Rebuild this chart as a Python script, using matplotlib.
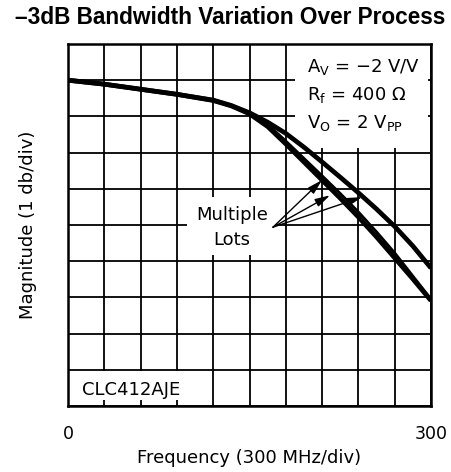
import numpy as np
import matplotlib
matplotlib.use("Agg")
import matplotlib.pyplot as plt
from matplotlib.patches import Rectangle

# frequency points (300 MHz full scale, 30 per division) and magnitude in dB
freq = [0, 30, 60, 90, 120, 135, 150, 165, 180, 195, 210, 225, 240, 255, 270, 285, 300]
lot_upper = [0, -0.11, -0.25, -0.39, -0.55, -0.70, -0.90, -1.16, -1.47, -1.85, -2.26,
             -2.68, -3.11, -3.56, -4.04, -4.58, -5.19]
lot_mid = [0, -0.11, -0.25, -0.39, -0.55, -0.70, -0.92, -1.22, -1.68, -2.16, -2.64,
           -3.13, -3.64, -4.19, -4.77, -5.41, -6.05]
lot_low = [0, -0.11, -0.25, -0.39, -0.56, -0.71, -0.93, -1.28, -1.76, -2.26, -2.76,
           -3.26, -3.78, -4.33, -4.91, -5.49, -6.09]

x_ticks = np.arange(0, 301, 30)
y_ticks = np.arange(-9, 1.01, 1)
x_labels = ["0"] + [""] * 9 + ["300"]

arrow_tail = (169.4, -4.06)
arrow_tips = [(209.9, -2.76), (216.5, -3.18), (243.0, -3.23)]

label_font = "DejaVu Sans"
fs = 13

fig = plt.figure(figsize=(4.51, 4.72), dpi=100)
ax = fig.add_axes([68 / 451, 66 / 472, 363 / 451, 362 / 472])

ax.set_xlim(0, 300)
ax.set_ylim(-9, 1)
ax.set_xticks(x_ticks)
ax.set_xticklabels(x_labels, fontsize=12.5, family=label_font)
ax.set_yticks(y_ticks)
ax.set_yticklabels([])
ax.tick_params(length=0, pad=14)
ax.set_axisbelow(True)
ax.grid(True, color="black", lw=1.3)
for s in ax.spines.values():
    s.set_linewidth(1.8)

# blank out grid behind the text blocks
for (x0, y0, w, h) in [(188, -1.88, 109.5, 3.0), (0, -8.83, 118, 0.79), (98.3, -4.83, 73.7, 1.6)]:
    ax.add_patch(Rectangle((x0, y0), w, h, facecolor="white", edgecolor="none", zorder=1))

ax.plot(freq, lot_upper, color="black", lw=3.4, zorder=3, solid_capstyle="butt")
ax.plot(freq, lot_low, color="black", lw=3.4, zorder=3, solid_capstyle="butt")
ax.plot(freq, lot_mid, color="black", lw=2.0, zorder=3, solid_capstyle="butt")

for tip in arrow_tips:
    ax.annotate("", xy=tip, xytext=arrow_tail, zorder=4,
                arrowprops=dict(arrowstyle="-|>,head_length=0.9,head_width=0.25",
                                color="black", lw=1.0, shrinkA=0, shrinkB=0))

ax.text(135.5, -3.73, "Multiple", ha="center", va="center", fontsize=fs, family=label_font, zorder=4)
ax.text(135.5, -4.42, "Lots", ha="center", va="center", fontsize=fs, family=label_font, zorder=4)

ax.text(197.5, 0.22, r"A$_\mathregular{V}$ = $-$2 V/V", fontsize=fs, family=label_font, va="baseline", zorder=4)
ax.text(197.5, -0.55, r"R$_\mathregular{f}$ = 400 $\Omega$", fontsize=fs, family=label_font, va="baseline", zorder=4)
ax.text(197.5, -1.33, r"V$_\mathregular{O}$ = 2 V$_\mathregular{PP}$", fontsize=fs, family=label_font, va="baseline", zorder=4)
ax.text(11.6, -8.7, "CLC412AJE", fontsize=fs, family=label_font, va="baseline", zorder=4)

ax.set_xlabel("Frequency (300 MHz/div)", fontsize=fs, family=label_font)
ax.xaxis.set_label_coords(0.5, -0.1436)
ax.xaxis.label.set_va("center")
ax.set_ylabel("Magnitude (1 db/div)", fontsize=fs, family=label_font)
ax.yaxis.set_label_coords(-0.110, 0.5)
ax.yaxis.label.set_va("center")

fig.text(0.51, 1 - 18 / 472, "\u20133dB Bandwidth Variation Over Process", ha="center", va="center",
         fontsize=16.3, fontweight="bold", family=["Liberation Sans", "DejaVu Sans"])

fig.savefig("out.png", dpi=100)
